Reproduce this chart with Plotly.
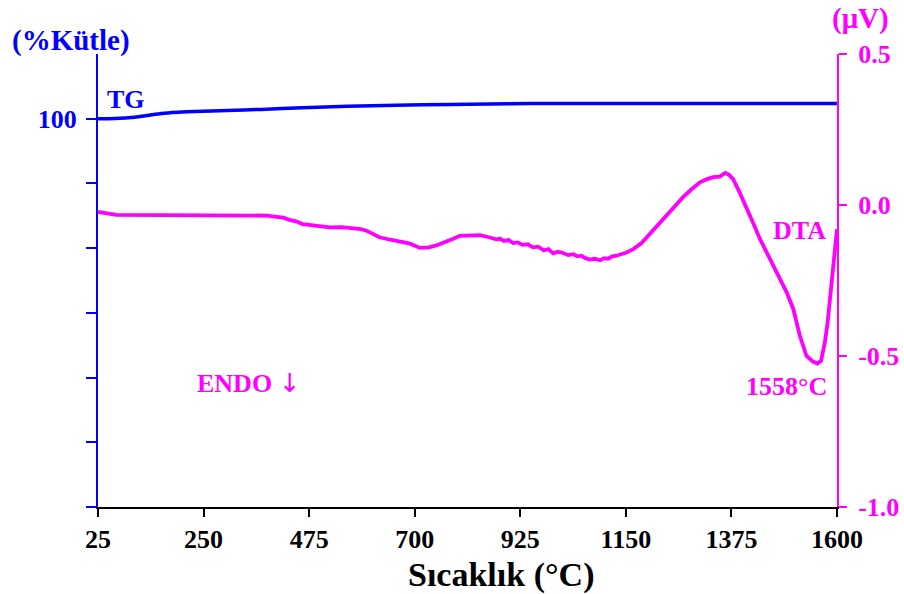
import plotly.graph_objects as go

# TG curve (mass %, left axis)
tg_temp = [25, 60, 103, 130, 160, 195, 231, 300, 373, 460, 557, 660, 775, 860, 945, 1030, 1116, 1300, 1450, 1600]
tg_mass = [100.0, 100.02, 100.12, 100.25, 100.41, 100.50, 100.56, 100.64, 100.72, 100.84, 100.97, 101.04, 101.10, 101.14, 101.18, 101.18, 101.18, 101.18, 101.18, 101.18]

# DTA curve (µV, right axis)
dta_temp = [25, 28, 64, 150, 250, 362, 385, 405, 420, 433, 447, 461, 490, 519, 545, 568, 585, 597, 612, 625,
            648, 668, 690, 711, 730, 746, 765, 782, 796, 815, 839, 856, 866, 874, 882, 890, 900, 910, 920,
            930, 941, 952, 963, 975, 985, 995, 1005, 1015, 1027, 1038, 1047, 1055, 1064, 1073, 1084, 1095,
            1104, 1112, 1121, 1130, 1150, 1166, 1184, 1201, 1220, 1237, 1255, 1272, 1290, 1308, 1322, 1336,
            1350, 1362, 1370, 1379, 1393, 1407, 1422, 1436, 1457, 1478, 1493, 1507, 1521, 1535, 1548, 1558,
            1566, 1574, 1580, 1585, 1592, 1600]
dta_uv = [-0.022, -0.024, -0.033, -0.034, -0.034, -0.034, -0.035, -0.039, -0.042, -0.049, -0.054, -0.063,
          -0.070, -0.074, -0.073, -0.076, -0.080, -0.085, -0.095, -0.107,
          -0.115, -0.120, -0.128, -0.142, -0.140, -0.134, -0.124, -0.112, -0.102, -0.100, -0.100, -0.106,
          -0.110, -0.114, -0.112, -0.119, -0.116, -0.126, -0.124, -0.132, -0.130, -0.140, -0.138, -0.150,
          -0.146, -0.160, -0.155, -0.158, -0.166, -0.163, -0.170, -0.168, -0.176, -0.181, -0.178, -0.183,
          -0.176, -0.178, -0.170, -0.168, -0.158, -0.146, -0.125, -0.096, -0.066, -0.036, -0.005, 0.026,
          0.052, 0.075, 0.085, 0.092, 0.094, 0.106, 0.100, 0.085, 0.040, -0.013, -0.062, -0.113, -0.180,
          -0.246, -0.290, -0.345, -0.434, -0.500, -0.518, -0.525, -0.516, -0.456, -0.390, -0.312, -0.200,
          -0.080]

x_ticks = [25, 250, 475, 700, 925, 1150, 1375, 1600]
left_ticks = [70, 75, 80, 85, 90, 95, 100]
left_labels = ["", "", "", "", "", "", "100"]
right_ticks = [-1.0, -0.5, 0.0, 0.5]
right_labels = ["-1.0", "-0.5", "0.0", "0.5"]

BLUE = "#0000ff"
MAGENTA = "#ff00ff"
FONT = "Liberation Serif"
TICK_SIZE = 26
LABEL_SIZE = 26

fig = go.Figure()
fig.add_trace(go.Scatter(x=tg_temp, y=tg_mass, mode="lines", yaxis="y",
                         line=dict(color=BLUE, width=3.5, shape="spline", smoothing=0.6),
                         showlegend=False, hoverinfo="skip"))
fig.add_trace(go.Scatter(x=dta_temp, y=dta_uv, mode="lines", yaxis="y2",
                         line=dict(color=MAGENTA, width=3.8),
                         showlegend=False, hoverinfo="skip"))

fig.update_layout(
    width=904, height=594,
    margin=dict(l=98, r=67, t=54, b=87, autoexpand=False),
    paper_bgcolor="white", plot_bgcolor="white",
    font=dict(family=FONT, size=TICK_SIZE, color="black", weight="bold"),
    xaxis=dict(range=[25, 1600], tickvals=x_ticks, ticktext=[str(v) for v in x_ticks],
               showline=True, linecolor="black", linewidth=1.5, ticks="outside",
               ticklen=8, tickwidth=1.5, tickcolor="black", showgrid=False, zeroline=False,
               ticklabelstandoff=0, automargin=False,
               tickfont=dict(family=FONT, size=TICK_SIZE, color="black", weight="bold")),
    yaxis=dict(range=[70, 105], tickvals=left_ticks, ticktext=left_labels,
               showline=True, linecolor=BLUE, linewidth=2, ticks="outside",
               ticklen=10, tickwidth=2, tickcolor=BLUE, showgrid=False, zeroline=False,
               ticklabelstandoff=4, automargin=False,
               tickfont=dict(family=FONT, size=TICK_SIZE, color=BLUE, weight="bold")),
    yaxis2=dict(range=[-1.0, 0.5], tickvals=right_ticks, ticktext=right_labels,
                overlaying="y", side="right", anchor="x",
                showline=True, linecolor=MAGENTA, linewidth=2, ticks="outside",
                ticklen=8, tickwidth=2, tickcolor=MAGENTA, showgrid=False, zeroline=False,
                ticklabelstandoff=6, automargin=False,
                tickfont=dict(family=FONT, size=TICK_SIZE, color=MAGENTA, weight="bold")),
)

ann = []
# axis titles
ann.append(dict(text="(%Kütle)", xref="paper", yref="paper", x=-0.037, y=1.0, yshift=14,
                xanchor="center", yanchor="middle", showarrow=False,
                font=dict(family=FONT, size=29, color=BLUE, weight="bold")))
ann.append(dict(text="(μV)", xref="paper", yref="paper", x=1.0, y=1.0, xshift=23, yshift=36,
                xanchor="center", yanchor="middle", showarrow=False,
                font=dict(family=FONT, size=29, color=MAGENTA, weight="bold")))
ann.append(dict(text="Sıcaklık (°C)", xref="paper", yref="paper", x=0.545, y=0, yshift=-68,
                xanchor="center", yanchor="middle", showarrow=False,
                font=dict(family=FONT, size=34, color="black", weight="bold")))
# curve labels
ann.append(dict(text="TG", xref="x", yref="y", x=84, y=101.5,
                xanchor="center", yanchor="middle", showarrow=False,
                font=dict(family=FONT, size=LABEL_SIZE, color=BLUE, weight="bold")))
ann.append(dict(text="DTA", xref="x", yref="y2", x=1521, y=-0.083,
                xanchor="center", yanchor="middle", showarrow=False,
                font=dict(family=FONT, size=LABEL_SIZE, color=MAGENTA, weight="bold")))
ann.append(dict(text="ENDO <span style='font-family:DejaVu Sans;font-weight:normal'>↓</span>",
                xref="x", yref="y2", x=346, y=-0.590,
                xanchor="center", yanchor="middle", showarrow=False,
                font=dict(family=FONT, size=LABEL_SIZE, color=MAGENTA, weight="bold")))
ann.append(dict(text="1558°C", xref="x", yref="y2", x=1493, y=-0.600,
                xanchor="center", yanchor="middle", showarrow=False,
                font=dict(family=FONT, size=LABEL_SIZE, color=MAGENTA, weight="bold")))
fig.update_layout(annotations=ann)

fig.write_html("out.html")
